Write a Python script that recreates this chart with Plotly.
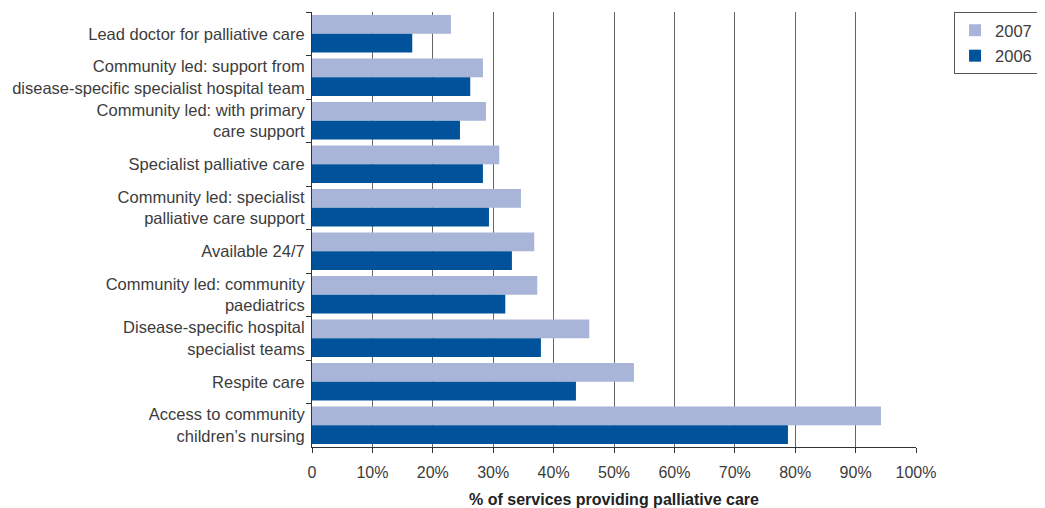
import plotly.graph_objects as go

categories = [
    "Lead doctor for palliative care",
    "Community led: support from<br>disease-specific specialist hospital team",
    "Community led: with primary<br>care support",
    "Specialist palliative care",
    "Community led: specialist<br>palliative care support",
    "Available 24/7",
    "Community led: community<br>paediatrics",
    "Disease-specific hospital<br>specialist teams",
    "Respite care",
    "Access to community<br>children\u2019s nursing",
]
values_2007 = [23.0, 28.3, 28.8, 31.0, 34.6, 36.8, 37.3, 45.9, 53.3, 94.2]
values_2006 = [16.6, 26.2, 24.5, 28.3, 29.3, 33.1, 32.0, 37.9, 43.7, 78.8]
tick_vals = [0, 10, 20, 30, 40, 50, 60, 70, 80, 90, 100]
tick_text = ["0", "10%", "20%", "30%", "40%", "50%", "60%", "70%", "80%", "90%", "100%"]

font_family = "Liberation Sans, Arial, sans-serif"
text_color = "#3c3c3c"

fig = go.Figure()
fig.add_trace(go.Bar(y=categories, x=values_2007, orientation="h", name="2007",
                     legendgroup="a",
                     marker=dict(color="#A9B5D8", line=dict(width=0))))
fig.add_trace(go.Bar(y=categories, x=values_2006, orientation="h", name="2006",
                     legendgroup="b",
                     marker=dict(color="#00539B", line=dict(width=0))))

# page body has an 8px margin; the figure is sized/offset to compensate
fig.update_layout(
    width=1037, height=500,
    margin=dict(l=304, r=129, t=4, b=61),
    paper_bgcolor="white", plot_bgcolor="white",
    barmode="group", bargap=0.14, bargroupgap=0,
    font=dict(family=font_family, size=16, color=text_color),
    legend=dict(x=1.063, y=1.0, xanchor="left", yanchor="top",
                bordercolor="#555555", borderwidth=1, traceorder="grouped",
                font=dict(size=16.5, color=text_color), itemwidth=30,
                tracegroupgap=1),
    xaxis=dict(range=[0, 100], tickvals=tick_vals, ticktext=tick_text,
               showgrid=True, gridcolor="#666666", gridwidth=1,
               showline=True, linecolor="#333333", linewidth=1,
               ticks="outside", ticklen=5, tickcolor="#333333",
               zeroline=False, fixedrange=True, automargin=False,
               ticklabelstandoff=6,
               tickfont=dict(size=16, color=text_color),
               title=dict(text="<b>% of services providing palliative care</b>",
                          font=dict(size=16, color="#222222"), standoff=18)),
    yaxis=dict(autorange="reversed", showline=True, linecolor="#333333", linewidth=1,
               ticks="outside", ticklen=5, tickcolor="#333333",
               tickson="boundaries", showgrid=False, automargin=False,
               ticklabelstandoff=3,
               tickfont=dict(size=16.5, color=text_color),
               fixedrange=True),
)

fig.write_html("out.html")
